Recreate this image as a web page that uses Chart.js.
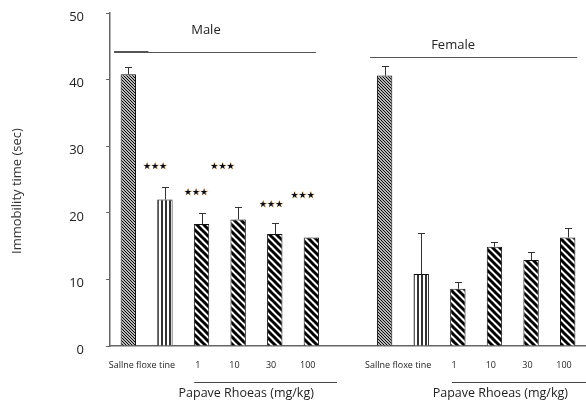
<!DOCTYPE html>
<html>
<head>
<meta charset="utf-8">
<script src="https://cdn.jsdelivr.net/npm/chart.js@4.4.0/dist/chart.umd.min.js"></script>
<style>
  html, body { margin: 0; padding: 0; background: #fff; }
</style>
</head>
<body>
<canvas id="chart" width="586" height="402"></canvas>
<script>
// groups and treatments
var groups = ['Male', 'Female'];
var treatments = ['Saline', 'Fluoxetine', '1', '10', '30', '100'];
var doseLabels = ['1', '10', '30', '100'];
var controlLabel = 'Sallne floxe tine';
var doseTitle = 'Papave Rhoeas (mg/kg)';
var yTitle = 'Immobility time (sec)';
var yTicks = [0, 10, 20, 30, 40, 50];

// immobility time: mean and error bar
var maleMean = [40.8, 22.0, 18.3, 19.0, 16.8, 16.3];
var maleErr = [1.05, 1.8, 1.65, 1.9, 1.7, 0];
var femaleMean = [40.6, 10.8, 8.6, 14.9, 12.9, 16.3];
var femaleErr = [1.4, 6.1, 0.95, 0.75, 1.25, 1.45];

// *** marks (male group): bar index and level
var sigBars = [1, 2, 3, 4, 5];
var sigLevel = [26.9, 23.0, 26.9, 21.2, 22.5];

// one empty slot between the two groups
var labels = treatments.concat([''], treatments);
var values = maleMean.concat([null], femaleMean);
var errors = maleErr.concat([0], femaleErr);

function stripes(size, width, diag) {
    var c = document.createElement('canvas');
    c.width = size; c.height = size;
    var g = c.getContext('2d');
    g.fillStyle = '#fff';
    g.fillRect(0, 0, size, size);
    g.strokeStyle = '#000';
    g.lineWidth = width;
    g.beginPath();
    if (diag) {
        for (var k = -1; k <= 1; k++) {
            g.moveTo(k * size - 1, -1);
            g.lineTo(k * size + size + 1, size + 1);
        }
    } else {
        g.moveTo(size / 2, 0);
        g.lineTo(size / 2, size);
    }
    g.stroke();
    return g.createPattern(c, 'repeat');
}

var fineHatch = stripes(3, 1.1, true);
var vertHatch = stripes(4, 1.6, false);
var wideHatch = stripes(7, 3, true);

var fills = labels.map(function(t, i) {
    var k = i % 7;
    if (k === 0) return fineHatch;
    if (k === 1) return vertHatch;
    return wideHatch;
});

var font = '"Open Sans", sans-serif';

var decor = {
    id: 'decor',
    afterDatasetsDraw: function(chart) {
        var ctx = chart.ctx;
        var y = chart.scales.y;
        var bars = chart.getDatasetMeta(0).data;
        ctx.save();
        ctx.strokeStyle = '#333';
        ctx.lineWidth = 1;
        for (var i = 0; i < values.length; i++) {
            if (values[i] === null || !errors[i]) continue;
            var x = Math.round(bars[i].x) + 0.5;
            var y0 = y.getPixelForValue(values[i]);
            var y1 = Math.round(y.getPixelForValue(values[i] + errors[i])) + 0.5;
            ctx.beginPath();
            ctx.moveTo(x, y0);
            ctx.lineTo(x, y1);
            ctx.moveTo(x - 3.5, y1);
            ctx.lineTo(x + 3.5, y1);
            ctx.stroke();
        }
        ctx.restore();
    },
    afterDraw: function(chart) {
        var ctx = chart.ctx;
        var xs = chart.scales.x;
        var ys = chart.scales.y;
        var area = chart.chartArea;
        function px(v) { return xs.getPixelForValue(v); }
        ctx.save();

        // *** marks
        var sigShift = [-0.27, -0.15, -0.43, -0.1, -0.24];
        ctx.font = '9px "DejaVu Sans"';
        ctx.textAlign = 'center';
        ctx.textBaseline = 'middle';
        sigBars.forEach(function(b, i) {
            var x = px(b + sigShift[i]);
            var yy = ys.getPixelForValue(sigLevel[i]);
            ctx.strokeStyle = 'rgba(225,160,60,0.55)';
            ctx.lineWidth = 0.6;
            ctx.strokeText('\u2605\u2605\u2605', x + 0.4, yy);
            ctx.fillStyle = '#0a0a14';
            ctx.fillText('\u2605\u2605\u2605', x, yy);
        });

        // group headers
        ctx.strokeStyle = '#555';
        ctx.lineWidth = 1;
        ctx.beginPath();
        ctx.moveTo(px(-0.39), 52.5);
        ctx.lineTo(px(5.13), 52.5);
        ctx.moveTo(px(6.6), 57.5);
        ctx.lineTo(px(12.26), 57.5);
        ctx.stroke();
        ctx.lineWidth = 2;
        ctx.beginPath();
        ctx.moveTo(px(-0.39), 52);
        ctx.lineTo(px(0.55), 52);
        ctx.stroke();

        ctx.fillStyle = '#222';
        ctx.font = '13px ' + font;
        ctx.fillText(groups[0], px(2.12), 30);
        ctx.fillText(groups[1], px(8.87), 45);

        // category labels under the axis
        ctx.font = '9px ' + font;
        [0, 7].forEach(function(start) {
            ctx.fillText(controlLabel, px(start + 0.37), 365);
            doseLabels.forEach(function(d, j) {
                ctx.fillText(d, px(start + 2 + j - 0.1), 365);
            });
        });

        // dose bracket lines and titles
        ctx.strokeStyle = '#444';
        ctx.lineWidth = 1;
        ctx.beginPath();
        ctx.moveTo(px(1.8), 382.5);
        ctx.lineTo(px(5.7), 382.5);
        ctx.moveTo(px(8.84), 382.5);
        ctx.lineTo(area.right, 382.5);
        ctx.stroke();
        ctx.font = '12.5px ' + font;
        ctx.fillText(doseTitle, px(3.22), 393);
        ctx.fillText(doseTitle, px(10.16), 393);

        // y title
        ctx.translate(17, 191);
        ctx.rotate(-Math.PI / 2);
        ctx.font = '13px ' + font;
        ctx.fillStyle = '#333';
        ctx.fillText(yTitle, 0, 0);
        ctx.restore();
    }
};

new Chart(document.getElementById('chart'), {
    type: 'bar',
    data: {
        labels: labels,
        datasets: [{
            data: values,
            backgroundColor: fills,
            borderColor: '#111',
            borderWidth: 1,
            barPercentage: 0.42,
            categoryPercentage: 1
        }]
    },
    options: {
        responsive: false,
        animation: false,
        layout: { padding: { top: 13, right: 0, bottom: 56, left: 0 } },
        plugins: { legend: { display: false }, tooltip: { enabled: false } },
        scales: {
            x: {
                grid: { display: false },
                border: { color: '#666', width: 1.5 },
                ticks: { display: false },
                afterFit: function(s) { s.height = 0; }
            },
            y: {
                min: 0,
                max: 50,
                afterBuildTicks: function(s) {
                    s.ticks = yTicks.map(function(v) { return { value: v }; });
                },
                grid: { drawOnChartArea: false, tickLength: 4, color: '#666' },
                border: { color: '#666', width: 1.5 },
                ticks: { padding: 22, labelOffset: 4, color: '#222', font: { family: 'Open Sans', size: 13 } },
                afterFit: function(s) {
                    s.width = 110;
                    s.paddingTop = 0;
                    s.paddingBottom = 0;
                }
            }
        }
    },
    plugins: [decor]
});
</script>
</body>
</html>
